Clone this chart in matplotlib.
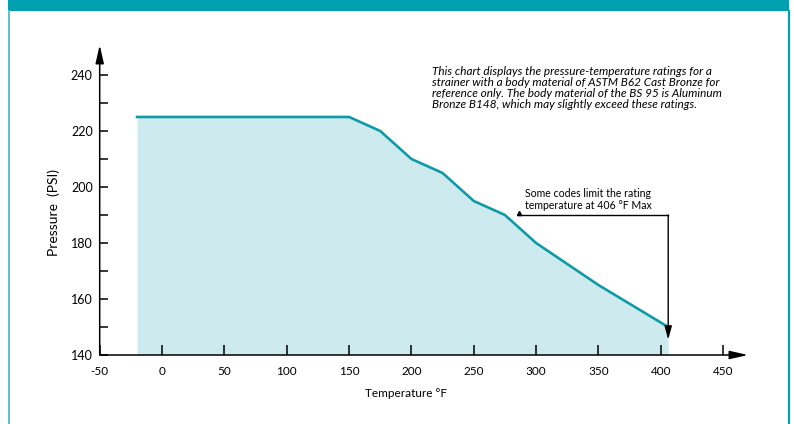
import matplotlib
matplotlib.use("Agg")
import matplotlib.pyplot as plt
from matplotlib.patches import Rectangle
from matplotlib.lines import Line2D

plt.rcParams['font.family'] = ['Lato', 'DejaVu Sans']

# rating curve
temps = [-20, 150, 175, 200, 225, 250, 275, 300, 350, 406]
pressures = [225, 225, 220, 210, 205, 195, 190, 180, 165, 150]

x_ticks = [-50, 0, 50, 100, 150, 200, 250, 300, 350, 400, 450]
y_ticks = [140, 160, 180, 200, 220, 240]
y_minor = [150, 170, 190, 210, 230]

limit_temp = 406
note_level = 190
note_start = 286
note_end = 145.5

note_text = ("This chart displays the pressure-temperature ratings for a\n"
             "strainer with a body material of ASTM B62 Cast Bronze for\n"
             "reference only. The body material of the BS 95 is Aluminum\n"
             "Bronze B148, which may slightly exceed these ratings.")
limit_text = "Some codes limit the rating\ntemperature at 406 °F Max"

teal = '#00A0B0'
line_col = '#0E9BA8'
fill_col = '#CDEBEE'

W, H = 794, 424
fig = plt.figure(figsize=(W / 100, H / 100), dpi=100)

# frame: header bar and side borders
fig.add_artist(Rectangle((8 / W, 1 - 11 / H), 781 / W, 11 / H,
                         transform=fig.transFigure, color=teal, lw=0))
fig.add_artist(Line2D([8.5 / W, 8.5 / W], [0, 1 - 11 / H],
                      transform=fig.transFigure, color='#5BC3C9', lw=1.4))
fig.add_artist(Line2D([788.5 / W, 788.5 / W], [0, 1 - 11 / H],
                      transform=fig.transFigure, color=teal, lw=1.6))

x0, x1 = 99.7, 748
y0, y1 = 355, 45
ax = fig.add_axes([x0 / W, 1 - y0 / H, (x1 - x0) / W, (y0 - y1) / H])
ax.set_xlim(-50, 470)
ax.set_ylim(140, 250.7)
ax.patch.set_alpha(0)

ax.fill_between(temps, pressures, 140, color=fill_col, lw=0)
ax.plot(temps, pressures, color=line_col, lw=1.9, solid_joinstyle='miter')

for s in ax.spines.values():
    s.set_visible(False)

# axes drawn as arrows
arrow = dict(arrowstyle='-|>,head_length=1.1,head_width=0.25',
             color='black', lw=1.1, shrinkA=0, shrinkB=0)
ax.annotate('', xy=(470, 140), xytext=(-50, 140), arrowprops=arrow,
            annotation_clip=False)
ax.annotate('', xy=(-50, 250.7), xytext=(-50, 140), arrowprops=arrow,
            annotation_clip=False)

ax.set_xticks(x_ticks)
ax.set_xticklabels([str(t) for t in x_ticks])
ax.set_yticks(y_ticks)
ax.set_yticklabels([str(t) for t in y_ticks])
ax.set_yticks(y_minor, minor=True)
ax.tick_params(axis='x', direction='in', length=7, width=1.1, pad=8,
               labelsize=8.5)
ax.tick_params(axis='y', which='both', direction='in', length=6, width=1.1,
               pad=5, labelsize=9)

ax.set_xlabel('Temperature °F', fontsize=8.5)
ax.xaxis.set_label_coords(0.473, -0.105)
ax.set_ylabel('Pressure  (PSI)', fontsize=10)
ax.yaxis.set_label_coords(-0.061, 0.461)

ax.text(-50 + (431.7 - x0) / 1.2466, 140 + (y0 - 66.5) / 2.8, note_text,
        fontsize=8.5, style='italic', va='top', ha='left', linespacing=1.0)

# 406 F limit callout
ax.plot([note_start, limit_temp], [note_level, note_level], color='black',
        lw=1.0)
ax.annotate('', xy=(limit_temp, note_end), xytext=(limit_temp, note_level),
            arrowprops=dict(arrowstyle='-|>,head_length=0.8,head_width=0.22',
                            color='black', lw=1.0, shrinkA=0, shrinkB=0))
ax.plot([note_start], [note_level + 0.6], marker='^', ms=3, color='black')
ax.text(note_start + 5, note_level + 1.3, limit_text, fontsize=7.6,
        va='bottom', ha='left', linespacing=1.2)

fig.savefig('out.png', dpi=100)
